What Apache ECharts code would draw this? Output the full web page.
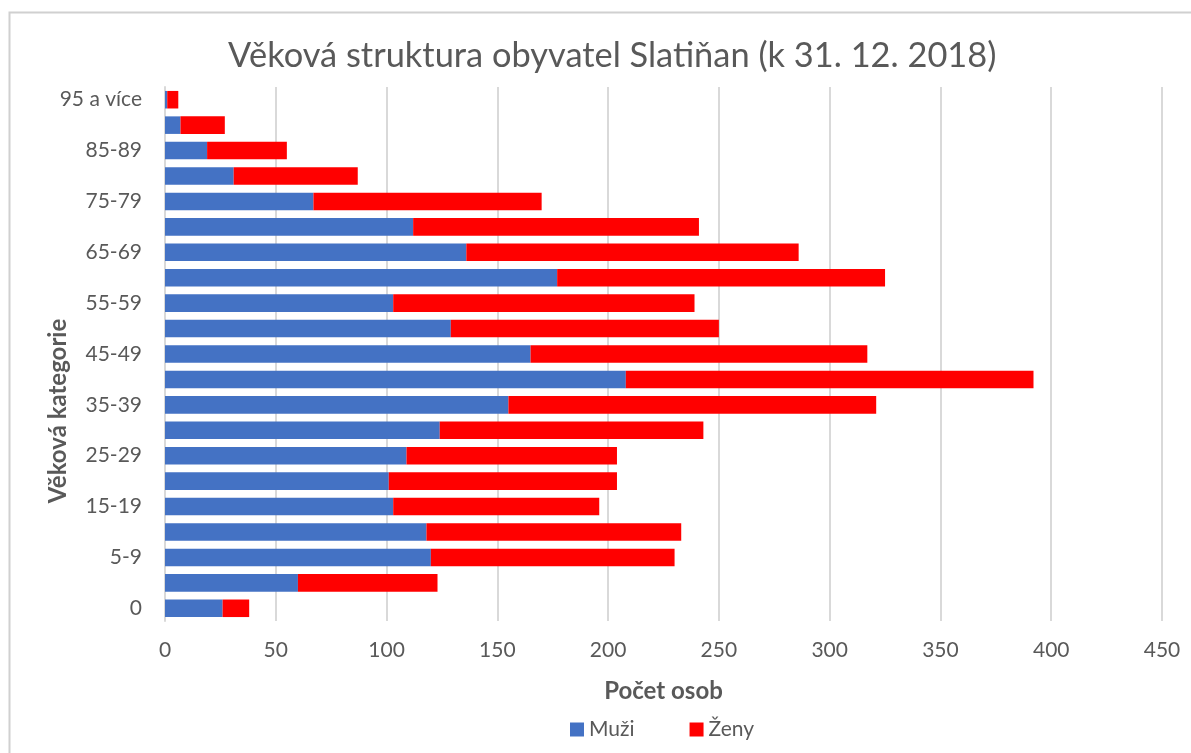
<!DOCTYPE html>
<html>
<head>
<meta charset="utf-8">
<script src="https://cdn.jsdelivr.net/npm/echarts@6/dist/echarts.min.js"></script>
<style>html,body{margin:0;padding:0;background:#fff;}#c{width:1191px;height:753px;}</style>
</head>
<body>
<div id="c"></div>
<script>
const categories = ['0','1-4','5-9','10-14','15-19','20-24','25-29','30-34','35-39','40-44','45-49','50-54','55-59','60-64','65-69','70-74','75-79','80-84','85-89','90-94','95 a více'];
const muzi = [26, 60, 120, 118, 103, 101, 109, 124, 155, 208, 165, 129, 103, 177, 136, 112, 67, 31, 19, 7, 1];
const zeny = [12, 63, 110, 115, 93, 103, 95, 119, 166, 184, 152, 121, 136, 148, 150, 129, 103, 56, 36, 20, 5];
const xTicks = [0, 50, 100, 150, 200, 250, 300, 350, 400, 450];

const FONT = 'Lato';
const TXT = '#595959';
const chart = echarts.init(document.getElementById('c'));
chart.setOption({
  animation: false,
  backgroundColor: '#fff',
  textStyle: { fontFamily: FONT },
  title: {
    text: 'Věková struktura obyvatel Slatiňan (k 31. 12. 2018)',
    left: 223, top: 34,
    textStyle: { fontFamily: FONT, fontSize: 34.4, fontWeight: 'normal', color: TXT }
  },
  legend: {
    bottom: 8, left: 565,
    itemWidth: 14, itemHeight: 14, itemGap: 55,
    icon: 'rect',
    textStyle: { fontFamily: FONT, fontSize: 21, color: TXT },
    data: ['Muži', 'Ženy']
  },
  grid: { left: 165, right: 29, top: 87, bottom: 132, containLabel: false },
  xAxis: {
    type: 'value',
    min: xTicks[0], max: xTicks[xTicks.length - 1], interval: 50,
    name: 'Počet osob', nameLocation: 'middle', nameGap: 58,
    nameTextStyle: { fontFamily: FONT, fontSize: 24, fontWeight: 'bold', color: TXT },
    axisLine: { show: false },
    axisTick: { show: false },
    axisLabel: { fontFamily: FONT, fontSize: 21, color: TXT, margin: 19 },
    splitLine: { show: true, lineStyle: { color: '#d9d9d9', width: 2 } }
  },
  yAxis: {
    type: 'category',
    data: categories,
    axisLine: { show: true, lineStyle: { color: '#d9d9d9', width: 2 } },
    axisTick: { show: false },
    axisLabel: { fontFamily: FONT, fontSize: 21, color: TXT, margin: 23, interval: 1 },
    splitLine: { show: false }
  },
  graphic: [
    {
      type: 'rect', silent: true, z: -1,
      shape: { x: 9.5, y: 12.5, width: 1200, height: 800 },
      style: { fill: 'none', stroke: '#d0d0d0', lineWidth: 2 }
    },
    {
      type: 'text', silent: true,
      x: 58, y: 411, rotation: Math.PI / 2,
      style: {
        text: 'Věková kategorie',
        font: 'bold 24px ' + FONT,
        fill: TXT, align: 'center', verticalAlign: 'middle'
      }
    }
  ],
  series: [
    {
      name: 'Muži', type: 'bar', stack: 'a', data: muzi,
      barCategoryGap: '31%',
      itemStyle: { color: '#4472c4' }
    },
    {
      name: 'Ženy', type: 'bar', stack: 'a', data: zeny,
      barCategoryGap: '31%',
      itemStyle: { color: '#ff0000' }
    }
  ]
});
</script>
</body>
</html>
